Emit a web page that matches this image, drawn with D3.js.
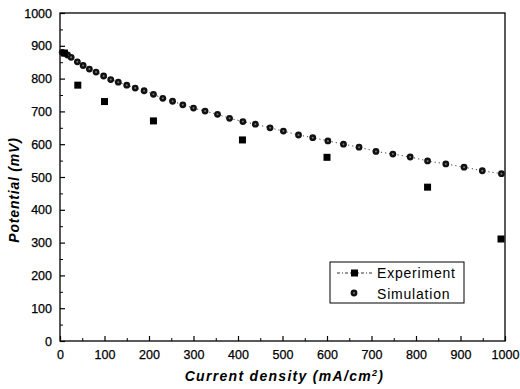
<!DOCTYPE html>
<html><head><meta charset="utf-8">
<script src="https://cdn.jsdelivr.net/npm/d3@7"></script>
<style>body{margin:0;background:#fff}svg{display:block}text{font-family:Arial,"Liberation Sans",sans-serif}</style>
</head><body>
<svg id="c" width="520" height="389"></svg>
<script>
const simX = [5,10,17,25,39,52,66,81,98,114,131,150,169,189,210,231,253,276,300,326,354,381,411,439,472,502,536,568,602,637,672,710,748,787,826,867,908,949,992];
const simY = [880,877,872,865,851,840,829,820,808,797,789,780,771,763,752,740,731,720,710,701,691,679,669,661,650,640,628,620,610,600,591,578,570,561,549,540,530,519,510];
const expX = [10,40,100,210,410,600,826,991];
const expY = [878,780,730,671,613,560,469,311];
const xTicks = [0,100,200,300,400,500,600,700,800,900,1000];
const yTicks = [0,100,200,300,400,500,600,700,800,900,1000];

const svg = d3.select('#c');
const L=60,R=505,T=13,B=341;
const x = d3.scaleLinear().domain([0,1000]).range([L,R]);
const y = d3.scaleLinear().domain([0,1000]).range([B,T]);

svg.append('rect').attr('x',L).attr('y',T).attr('width',R-L).attr('height',B-T)
  .attr('fill','none').attr('stroke','#000').attr('stroke-width',1.3);

const xa = svg.append('g').attr('transform',`translate(0,${B})`)
  .call(d3.axisBottom(x).tickValues(xTicks).tickSize(-5).tickPadding(9).tickFormat(d3.format('d')));
const ya = svg.append('g').attr('transform',`translate(${L},0)`)
  .call(d3.axisLeft(y).tickValues(yTicks).tickSize(-5).tickPadding(8).tickFormat(d3.format('d')));
[xa,ya].forEach(g=>{
  g.select('.domain').remove();
  g.selectAll('line').attr('stroke','#000').attr('stroke-width',1.2);
  g.selectAll('text').attr('font-size','12.5px').attr('fill','#000').attr('stroke','#000').attr('stroke-width',0.25);
});
const minor = d3.range(50,1000,100);
svg.append('g').attr('transform',`translate(0,${B})`)
  .call(d3.axisBottom(x).tickValues(minor).tickSize(-3).tickFormat(''))
  .call(g=>{g.select('.domain').remove();g.selectAll('line').attr('stroke','#000');});
svg.append('g').attr('transform',`translate(${L},0)`)
  .call(d3.axisLeft(y).tickValues(minor).tickSize(-3).tickFormat(''))
  .call(g=>{g.select('.domain').remove();g.selectAll('line').attr('stroke','#000');});

svg.append('text').attr('x',(L+R)/2+2).attr('y',381).attr('text-anchor','middle')
  .attr('font-size','14px').attr('font-weight','bold').attr('font-style','italic').attr('letter-spacing','1.3px')
  .html('Current density (mA/cm<tspan dy="-5" font-size="9px">2</tspan><tspan dy="5">)</tspan>');
svg.append('text').attr('transform',`translate(19,${(T+B)/2+13}) rotate(-90)`).attr('text-anchor','middle')
  .attr('font-size','14px').attr('font-weight','bold').attr('font-style','italic').attr('letter-spacing','0.8px')
  .text('Potential (mV)');

const line = d3.line().x((d,i)=>x(simX[i])).y((d,i)=>y(simY[i]));
svg.append('path').datum(simY).attr('d',line).attr('fill','none')
  .attr('stroke','#444').attr('stroke-width',1).attr('stroke-dasharray','1.2,3');

const sim = svg.append('g');
sim.selectAll('circle.o').data(simY).join('circle').attr('class','o')
  .attr('cx',(d,i)=>x(simX[i])).attr('cy',d=>y(d)).attr('r',3.4).attr('fill','#111');
sim.selectAll('circle.i').data(simY).join('circle').attr('class','i')
  .attr('cx',(d,i)=>x(simX[i])).attr('cy',d=>y(d)).attr('r',1).attr('fill','#777');

svg.append('g').selectAll('rect').data(expY).join('rect')
  .attr('x',(d,i)=>x(expX[i])-3.5).attr('y',d=>y(d)-3.5).attr('width',7).attr('height',7).attr('fill','#000');

const lg = svg.append('g');
lg.append('rect').attr('x',330).attr('y',262).attr('width',134).attr('height',41)
  .attr('fill','#fff').attr('stroke','#000').attr('stroke-width',1);
lg.append('line').attr('x1',337).attr('x2',372).attr('y1',273).attr('y2',273)
  .attr('stroke','#333').attr('stroke-width',1).attr('stroke-dasharray','3,2,1,2');
lg.append('rect').attr('x',351).attr('y',269.5).attr('width',7).attr('height',7).attr('fill','#000');
lg.append('circle').attr('cx',354).attr('cy',293).attr('r',3.4).attr('fill','#111');
lg.append('circle').attr('cx',354).attr('cy',293).attr('r',1).attr('fill','#777');
lg.append('text').attr('x',377).attr('y',278).attr('font-size','14px').attr('letter-spacing','0.8px').text('Experiment');
lg.append('text').attr('x',377).attr('y',299).attr('font-size','14px').attr('letter-spacing','0.8px').text('Simulation');
</script>
</body></html>
